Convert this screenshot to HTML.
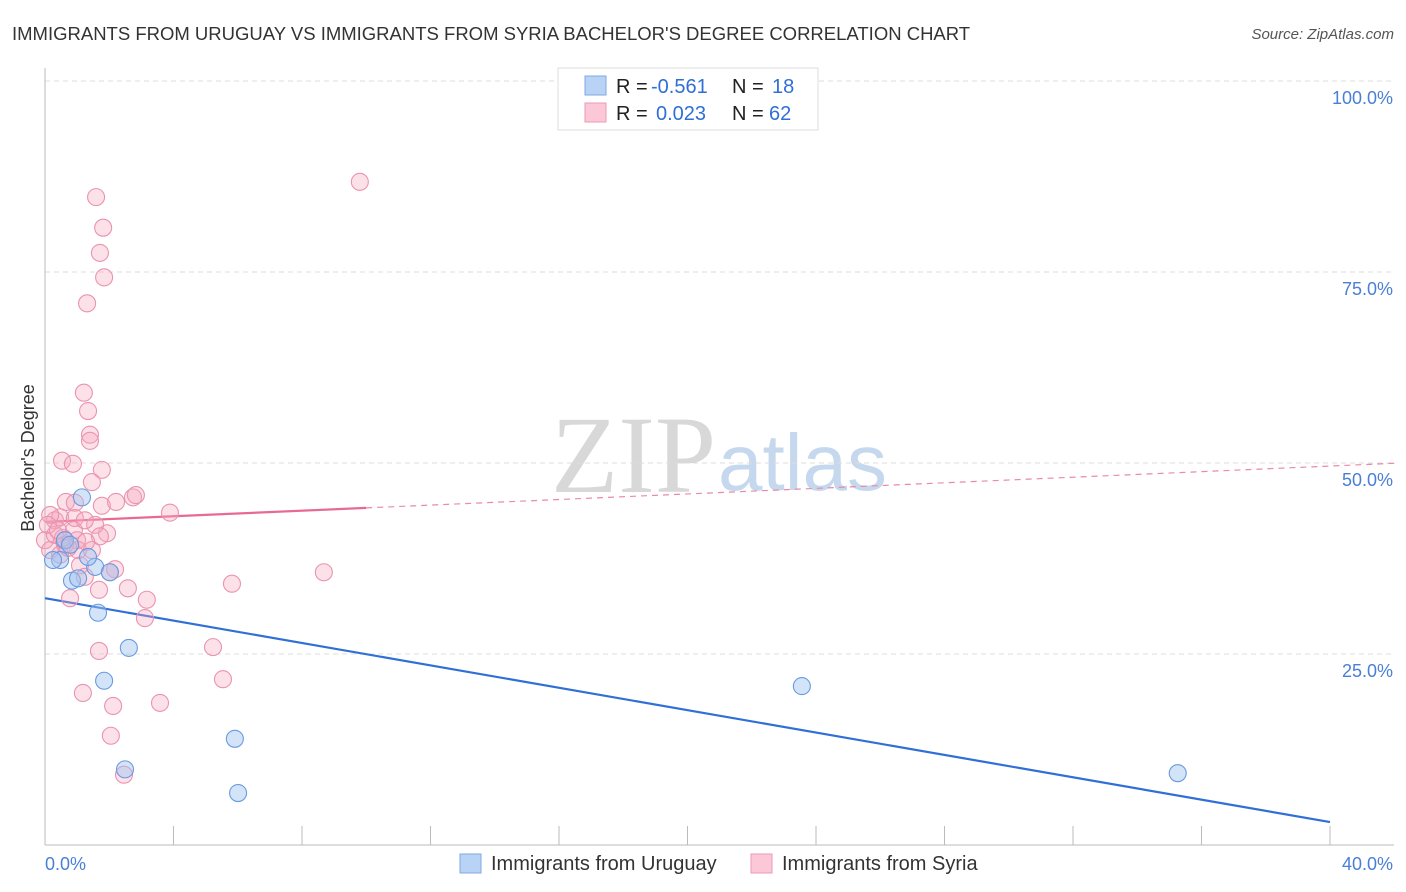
<!DOCTYPE html>
<html><head><meta charset="utf-8">
<style>
body{margin:0;background:#fff;font-family:"Liberation Sans",sans-serif;}
#wrap{position:relative;width:1406px;height:892px;overflow:hidden;}
</style></head>
<body>
<div id="wrap">
<svg id="svg" width="1406" height="892">
<text x="12" y="40" font-size="18.5" fill="#333">IMMIGRANTS FROM URUGUAY VS IMMIGRANTS FROM SYRIA BACHELOR'S DEGREE CORRELATION CHART</text>
<text x="1394" y="39" font-size="15" fill="#555" text-anchor="end" font-style="italic">Source: ZipAtlas.com</text>
<text x="716" y="492" font-size="110" fill="#d8d8d8" text-anchor="end" font-family="Liberation Serif,serif">ZIP</text>
<text x="718" y="490" font-size="80" fill="#c5d8ee">atlas</text>
<text transform="translate(34,458) rotate(-90)" font-size="18" fill="#333" text-anchor="middle">Bachelor's Degree</text>
<g id="grid"></g><g id="axes"></g><g id="trend"></g><g id="pts"></g>
<g>
<rect x="558" y="68" width="260" height="62" fill="#fff" stroke="#ddd"/>
<rect x="585" y="76" width="21" height="19" fill="#b8d3f5" stroke="#7ea8e0"/>
<rect x="585" y="103" width="21" height="19" fill="#fcc8d8" stroke="#eb9ab4"/>
<text x="616" y="93" font-size="20" fill="#222">R = <tspan fill="#2f6fd6" x="651">-0.561</tspan><tspan x="732">N = </tspan><tspan fill="#2f6fd6" x="772">18</tspan></text>
<text x="616" y="120" font-size="20" fill="#222">R = <tspan fill="#2f6fd6" x="656">0.023</tspan><tspan x="732">N = </tspan><tspan fill="#2f6fd6" x="769">62</tspan></text>
</g>
<g>
<rect x="460" y="854" width="21" height="19" fill="#b8d3f5" stroke="#7ea8e0"/>
<text x="491" y="870" font-size="20" fill="#333">Immigrants from Uruguay</text>
<rect x="751" y="854" width="21" height="19" fill="#fcc8d8" stroke="#eb9ab4"/>
<text x="782" y="870" font-size="20" fill="#333">Immigrants from Syria</text>
</g>
</svg>
</div>
<script>
const yTicks=[25,50,75,100];
const yTickLabels=["25.0%","50.0%","75.0%","100.0%"];
const xTickLabels=["0.0%","40.0%"];
const uruguayX=[1.15,0.47,0.25,0.84,1.03,1.56,1.34,2.02,1.65,2.61,1.84,5.91,2.49,6.01,23.56,35.26,0.62,0.78];
const uruguayY=[45.5,37.3,37.3,34.6,34.9,36.4,37.7,35.7,30.4,25.8,21.5,13.9,9.9,6.8,20.8,9.4,39.9,39.3];
const syriaX=[1.59,1.81,1.71,1.84,1.31,9.80,1.21,1.34,1.40,1.40,0.53,0.87,1.77,1.46,0.65,0.93,1.77,2.21,2.74,2.83,3.89,1.93,1.00,0.62,0.31,0.47,0.16,0.90,1.56,1.03,1.46,1.09,1.24,2.18,2.02,0.78,1.68,2.58,3.17,3.11,1.68,5.23,5.82,8.68,1.18,2.12,3.58,5.54,2.05,2.46,0.0,0.16,0.31,0.47,0.72,1.71,1.28,0.56,0.09,0.93,0.40,1.24];
const syriaY=[84.8,80.8,77.5,74.3,70.9,86.8,59.2,56.8,53.7,52.9,50.3,49.9,49.1,47.5,44.9,44.8,44.4,44.9,45.5,45.8,43.5,40.8,39.9,39.3,42.5,42.9,43.2,41.2,41.9,38.6,38.6,36.6,35.1,36.1,35.7,32.3,33.4,33.6,32.1,29.7,25.4,25.9,34.2,35.7,19.9,18.2,18.6,21.7,14.3,9.2,39.9,38.6,40.6,38.0,38.9,40.4,39.7,40.2,41.9,42.8,41.2,42.5];
const uruguayTrend=[32.3,3.0];
const syriaTrend=[42.3,49.6];
const syriaSolidEnd=10;

const NS="http://www.w3.org/2000/svg";
const X=v=>45+v*32.125, Y=v=>845-v*7.64;
function mk(tag,attrs,parent){const e=document.createElementNS(NS,tag);for(const k in attrs)e.setAttribute(k,attrs[k]);document.getElementById(parent).appendChild(e);return e;}
yTicks.forEach((t,i)=>{
 const g=mk('line',{x1:45,x2:1394,y1:Y(t),y2:Y(t),stroke:'#ddd','stroke-dasharray':'5,4'},'grid');
 
 
 const l=mk('text',{x:1393,y:Y(t)+23,'font-size':18,fill:'#4a7fd6','text-anchor':'end'},'axes');
 l.textContent=yTickLabels[i];
 
 
});
let a=mk('line',{x1:45,x2:45,y1:68,y2:845,stroke:'#bbb'},'axes');


a=mk('line',{x1:45,x2:1394,y1:845,y2:845,stroke:'#bbb'},'axes');


for(let i=0;i<=10;i++){const t=mk('line',{x1:X(i*4),x2:X(i*4),y1:826,y2:845,stroke:'#bbb'},'axes');
 
 }
[[0,'start',45],[40,'end',1393]].forEach((d,i)=>{const t=mk('text',{x:d[2],y:870,'font-size':18,fill:'#4a7fd6','text-anchor':d[1]},'axes');t.textContent=xTickLabels[i];
 
 });
const sy=v=>syriaTrend[0]+(syriaTrend[1]-syriaTrend[0])*v/40;
let tl=mk('line',{x1:X(0),y1:Y(uruguayTrend[0]),x2:X(40),y2:Y(uruguayTrend[1]),stroke:'#2f6fd6','stroke-width':2.2},'trend');


tl=mk('line',{x1:X(0),y1:Y(sy(0)),x2:X(syriaSolidEnd),y2:Y(sy(syriaSolidEnd)),stroke:'#e86a92','stroke-width':2.2},'trend');


tl=mk('line',{x1:X(syriaSolidEnd),y1:Y(sy(syriaSolidEnd)),x2:X(42),y2:Y(sy(42)),stroke:'#e88aa8','stroke-width':1.2,'stroke-dasharray':'6,5'},'trend');


syriaX.forEach((x,i)=>{const c=mk('circle',{cx:X(x),cy:Y(syriaY[i]),r:8.5,fill:'rgba(246,168,192,0.35)',stroke:'#ea93b0','stroke-width':1.1},'pts');
 
 });
uruguayX.forEach((x,i)=>{const c=mk('circle',{cx:X(x),cy:Y(uruguayY[i]),r:8.5,fill:'rgba(160,196,240,0.45)',stroke:'#6a9ae0','stroke-width':1.1},'pts');
 
 });
</script>
</body></html>
